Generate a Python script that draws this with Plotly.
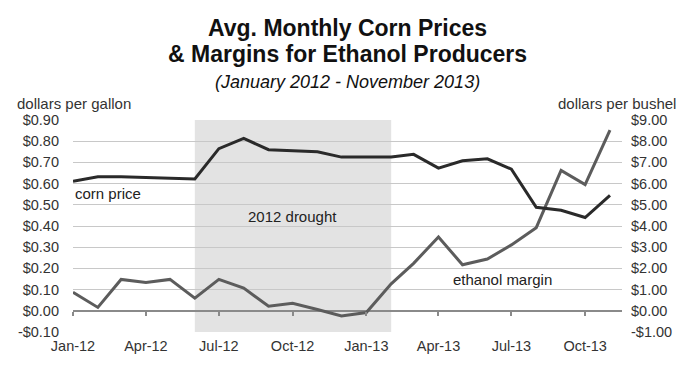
import plotly.graph_objects as go

months = ["2012-01-01","2012-02-01","2012-03-01","2012-04-01","2012-05-01","2012-06-01",
          "2012-07-01","2012-08-01","2012-09-01","2012-10-01","2012-11-01","2012-12-01",
          "2013-01-01","2013-02-01","2013-03-01","2013-04-01","2013-05-01","2013-06-01",
          "2013-07-01","2013-08-01","2013-09-01","2013-10-01","2013-11-01"]

# corn price, dollars per bushel (right axis)
corn_price = [6.11, 6.32, 6.32, 6.28, 6.24, 6.22, 7.65, 8.13, 7.60, 7.56, 7.50, 7.25,
              7.25, 7.25, 7.38, 6.73, 7.08, 7.17, 6.68, 4.88, 4.74, 4.40, 5.45]

# ethanol margin, dollars per gallon (left axis)
ethanol_margin = [0.087, 0.016, 0.148, 0.133, 0.148, 0.060, 0.148, 0.107, 0.022, 0.035,
                  0.006, -0.024, -0.008, 0.127, 0.224, 0.348, 0.217, 0.244, 0.311, 0.392,
                  0.662, 0.595, 0.852]

left_ticks = [-0.1, 0.0, 0.1, 0.2, 0.3, 0.4, 0.5, 0.6, 0.7, 0.8, 0.9]
left_labels = ["-$0.10", "$0.00", "$0.10", "$0.20", "$0.30", "$0.40", "$0.50",
               "$0.60", "$0.70", "$0.80", "$0.90"]
right_ticks = [-1, 0, 1, 2, 3, 4, 5, 6, 7, 8, 9]
right_labels = ["-$1.00", "$0.00", "$1.00", "$2.00", "$3.00", "$4.00", "$5.00",
                "$6.00", "$7.00", "$8.00", "$9.00"]
x_ticks = ["2012-01-01", "2012-04-01", "2012-07-01", "2012-10-01",
           "2013-01-01", "2013-04-01", "2013-07-01", "2013-10-01"]
x_labels = ["Jan-12", "Apr-12", "Jul-12", "Oct-12", "Jan-13", "Apr-13", "Jul-13", "Oct-13"]
drought = ["2012-06-01", "2013-02-01"]

FONT = "Liberation Sans, Arial, sans-serif"
x_range = ["2012-01-01", "2013-11-16"]
PLOT_H = 212.0
PLOT_W = 549.0

fig = go.Figure()
fig.add_trace(go.Scatter(x=months, y=ethanol_margin, mode="lines", yaxis="y",
                         line=dict(color="#5c5c5c", width=3), name="ethanol margin"))
fig.add_trace(go.Scatter(x=months, y=corn_price, mode="lines", yaxis="y2",
                         line=dict(color="#2a2a2a", width=3), name="corn price"))

fig.add_shape(type="rect", xref="x", yref="paper", x0=drought[0], x1=drought[1],
              y0=0, y1=1, fillcolor="#e3e3e3", line_width=0, layer="below")

fig.update_layout(
    width=695, height=372,
    margin=dict(l=73, r=73, t=120, b=40),
    paper_bgcolor="white", plot_bgcolor="white",
    showlegend=False,
    font=dict(family=FONT, size=14.5, color="#333333"),
    xaxis=dict(type="date", range=x_range, tickvals=x_ticks, ticktext=x_labels,
               anchor="free", position=0.1,
               showgrid=False, zeroline=False, ticks="outside", ticklen=4,
               tickcolor="#8a8a8a", tickwidth=1.5, showline=False,
               ticklabelstandoff=18,
               tickfont=dict(size=14.5, color="#333333")),
    yaxis=dict(range=[-0.1, 0.9], tickvals=left_ticks, ticktext=left_labels,
               showgrid=True, gridcolor="#c8c8c8", gridwidth=1, zeroline=True,
               zerolinecolor="#8a8a8a", zerolinewidth=2, ticks="", ticklen=0,
               ticklabelstandoff=13,
               tickfont=dict(size=14.5, color="#333333")),
    yaxis2=dict(range=[-1, 9], tickvals=right_ticks, ticktext=right_labels,
                overlaying="y", side="right", showgrid=False, zeroline=False,
                ticks="", ticklabelstandoff=8,
                tickfont=dict(size=14.5, color="#333333")),
)

annotations = [
    dict(text="<b>Avg. Monthly Corn Prices</b>", y=28, size=23),
    dict(text="<b>& Margins for Ethanol Producers</b>", y=54, size=23),
    dict(text="<i>(January 2012 - November 2013)</i>", y=82, size=18),
]
for a in annotations:
    fig.add_annotation(text=a["text"], xref="paper", yref="paper", x=0.5,
                       y=1 + (120 - a["y"]) / PLOT_H, showarrow=False,
                       font=dict(family=FONT, size=a["size"], color="#111111"),
                       xanchor="center", yanchor="middle")

fig.add_annotation(text="dollars per gallon", xref="paper", yref="paper",
                   x=-58 / PLOT_W, y=1 + 17 / PLOT_H, xanchor="left", yanchor="middle",
                   showarrow=False, font=dict(family=FONT, size=15, color="#333333"))
fig.add_annotation(text="dollars per bushel", xref="paper", yref="paper",
                   x=1 + 56 / PLOT_W, y=1 + 17 / PLOT_H, xanchor="right", yanchor="middle",
                   showarrow=False, font=dict(family=FONT, size=15, color="#333333"))

fig.add_annotation(text="corn price", xref="x", yref="y", x="2012-01-01", y=0.553,
                   xanchor="left", yanchor="middle", showarrow=False,
                   font=dict(family=FONT, size=15, color="#222222"))
fig.add_annotation(text="2012 drought", xref="x", yref="y", x="2012-10-01", y=0.445,
                   xanchor="center", yanchor="middle", showarrow=False,
                   font=dict(family=FONT, size=15, color="#222222"))
fig.add_annotation(text="ethanol margin", xref="x", yref="y", x="2013-06-20", y=0.15,
                   xanchor="center", yanchor="middle", showarrow=False,
                   font=dict(family=FONT, size=15, color="#222222"))

fig.write_html("out.html", config={"displayModeBar": False},
               post_script="document.body.style.margin='0px';")
